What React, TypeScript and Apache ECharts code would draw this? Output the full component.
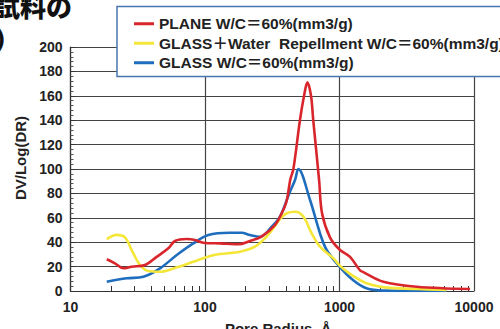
import React, { useEffect, useRef } from "react";
import * as echarts from "echarts";

const seriesNames = [
  "PLANE W/C＝60%(mm3/g)",
  "GLASS＋Water  Repellment W/C＝60%(mm3/g)",
  "GLASS W/C＝60%(mm3/g)",
];
const seriesColors = ["#d9262c", "#f5e63a", "#1f6dbd"];

const planeData: [number, number][] = [
  [18.6, 26], [21.4, 22.7], [24.7, 18.6], [28.5, 19.9], [35.8, 21.3], [43.7, 28],
  [53.4, 35], [59.8, 41], [73.1, 42.6], [84.3, 41.8], [97, 39.6], [130, 39],
  [177, 38.3], [216, 41], [263, 44.5], [331, 54], [372, 63.7], [405, 74],
  [430, 91], [454, 100], [508, 140], [545, 160], [577, 171], [614, 160],
  [638, 140], [705, 91], [741, 64], [849, 44], [1000, 34], [1197, 28],
  [1419, 17], [1503, 15.5], [2117, 7.6], [3750, 3.5], [9340, 1.6],
];

const repellData: [number, number][] = [
  [18.6, 42.4], [22, 46], [25.4, 44], [28.5, 33.6], [32.9, 21.3], [37.9, 16.4],
  [46.3, 15.8], [61.7, 19.4], [81.8, 24], [109, 28.7], [129, 30.3], [182, 32.2],
  [235, 36.3], [295, 46], [361, 58.8], [405, 63.7], [467, 65], [538, 61],
  [621, 47.3], [716, 36.3], [900, 26.8], [1000, 21], [1197, 14], [1419, 9],
  [1585, 6.3], [2000, 3.5], [2377, 2.6], [3750, 1.6], [6270, 0.8],
];

const glassData: [number, number][] = [
  [18.6, 7.6], [26.2, 10.4], [34.8, 11.7], [46.3, 18.6], [61.7, 29.5], [81.8, 39],
  [106, 46], [153, 47.8], [187, 47.8], [216, 45.9], [257, 44.5], [313, 52.7],
  [361, 61], [423, 80], [467, 91], [494, 100], [604, 74.6], [716, 47.3],
  [803, 33.6], [1000, 20], [1259, 9], [1585, 2.2], [2117, 0.3], [6270, 0],
];

const allData = [planeData, repellData, glassData];

const yTickMin = 0;
const yTickMax = 200;
const yTickStep = 20;
const xMin = 10;
const xMax = 10000;

const titleFragment = "試料の";
const titleFragment2 = "）";
const xAxisName = "Pore Radius  Å";
const yAxisName = "DV/Log(DR)";

const FONT = "'Liberation Sans', Arial, 'Noto Sans CJK JP', sans-serif";

export default function App() {
  const ref = useRef<HTMLDivElement>(null);
  useEffect(() => {
    if (!ref.current) return;
    const chart = echarts.init(ref.current, null, { renderer: "svg" });
    chart.setOption({
      animation: false,
      backgroundColor: "#ffffff",
      textStyle: { fontFamily: FONT },
      grid: {
        left: 70.5,
        right: 26,
        top: 47,
        bottom: 38,
        containLabel: false,
        outerBoundsMode: "none",
      },
      xAxis: {
        type: "log",
        logBase: 10,
        min: xMin,
        max: xMax,
        name: xAxisName,
        nameLocation: "middle",
        nameGap: 30,
        nameTextStyle: {
          fontFamily: FONT,
          fontWeight: "bold",
          fontSize: 15,
          color: "#222",
          padding: [0, 0, 0, 12],
        },
        axisLine: { show: true, lineStyle: { color: "#333", width: 1.2 } },
        axisTick: { show: false, inside: true },
        minorTick: { show: true, splitNumber: 9, length: 5, lineStyle: { color: "#333", width: 1 } },
        axisLabel: {
          fontFamily: FONT,
          fontWeight: "bold",
          fontSize: 14,
          color: "#222",
          margin: 9,
          formatter: (v: number) => String(Math.round(v)),
        },
        splitLine: { show: true, lineStyle: { color: "#444", width: 1.2 } },
      },
      yAxis: {
        type: "value",
        min: yTickMin,
        max: yTickMax,
        interval: yTickStep,
        name: yAxisName,
        nameLocation: "middle",
        nameGap: 42,
        nameTextStyle: {
          fontFamily: FONT,
          fontWeight: "bold",
          fontSize: 15,
          color: "#222",
          padding: [0, 0, 0, 22],
        },
        axisLine: { show: true, lineStyle: { color: "#333", width: 1.2 } },
        axisTick: { show: true, inside: true, length: 5, lineStyle: { color: "#333" } },
        minorTick: { show: true, splitNumber: 5, length: 3, lineStyle: { color: "#555", width: 1 } },
        axisLabel: {
          fontFamily: FONT,
          fontWeight: "bold",
          fontSize: 14,
          color: "#222",
          margin: 8,
        },
        splitLine: { show: true, lineStyle: { color: "#444", width: 1.2 } },
      },
      legend: {
        orient: "vertical",
        left: 117,
        top: 6.5,
        padding: [9.5, 30, 6, 17],
        itemWidth: 20,
        itemHeight: 3,
        itemGap: 4,
        icon: "rect",
        backgroundColor: "#ffffff",
        borderColor: "#4a76b0",
        borderWidth: 1.5,
        borderRadius: 0,
        textStyle: { fontFamily: FONT, fontWeight: "bold", fontSize: 15.5, lineHeight: 15, color: "#222" },
        data: seriesNames,
      },
      graphic: [
        {
          type: "text",
          left: -6,
          top: -8,
          style: {
            text: titleFragment,
            fontFamily: "'Noto Sans CJK JP', sans-serif",
            fontWeight: 900,
            fontSize: 26,
            fill: "#111",
          },
        },
        {
          type: "text",
          left: -6,
          top: 25,
          style: {
            text: titleFragment2,
            fontFamily: "'Noto Sans CJK JP', sans-serif",
            fontWeight: 900,
            fontSize: 27,
            fill: "#111",
          },
        },
      ],
      series: seriesNames.map((name, i) => ({
        name,
        type: "line",
        data: allData[i],
        smooth: 0.35,
        symbol: "none",
        showSymbol: false,
        color: seriesColors[i],
        lineStyle: { color: seriesColors[i], width: 2.6 },
        z: 3 - i,
      })),
    });
    return () => chart.dispose();
  }, []);
  return (
    <div
      ref={ref}
      style={{ position: "fixed", left: 0, top: 0, width: 500, height: 329 }}
    />
  );
}
